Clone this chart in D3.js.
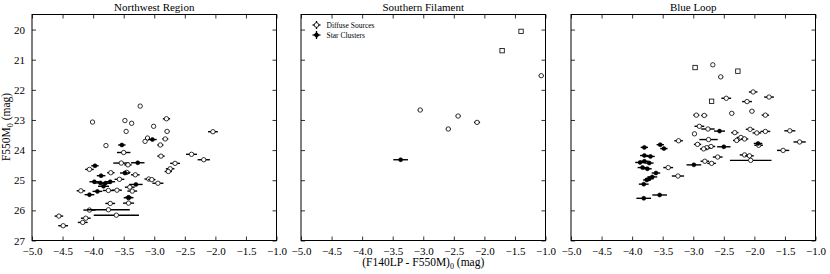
<!DOCTYPE html>
<html><head><meta charset="utf-8">
<script src="https://cdn.jsdelivr.net/npm/d3@7"></script>
<style>body{margin:0;background:#fff}svg{display:block}</style>
</head><body>
<svg id="c" width="830" height="274"></svg>
<script>
// ---------- data: [color, magnitude, color error]
const panelTitles = ["Northwest Region", "Southern Filament", "Blue Loop"];
const xTickVals = [-5.0, -4.5, -4.0, -3.5, -3.0, -2.5, -2.0, -1.5, -1.0];
const yTickVals = [20, 21, 22, 23, 24, 25, 26, 27];
const xDomain = [-5.0, -1.0];
const yDomain = [19.5, 27];
const yErr = 0.05;

const nwDiffuse = [
  [-3.23,22.54,0.03],[-4.01,23.07,0.03],[-3.48,23.02,0.03],[-3.37,23.11,0.03],[-3.46,23.38,0.03],
  [-3.01,23.21,0.03],[-2.80,22.96,0.06],[-2.79,23.38,0.04],[-2.04,23.39,0.08],[-3.79,23.85,0.03],
  [-3.11,23.60,0.04],[-3.15,23.71,0.03],[-2.82,23.63,0.05],[-2.90,23.83,0.05],[-3.50,24.08,0.11],
  [-2.89,24.20,0.06],[-2.39,24.14,0.09],[-2.19,24.32,0.1],[-2.66,24.44,0.08],[-2.74,24.62,0.07],
  [-2.77,24.71,0.06],[-3.54,24.43,0.13],[-3.43,24.49,0.06],[-4.06,24.64,0.07],[-3.71,24.75,0.06],
  [-3.45,24.74,0.06],[-3.31,24.82,0.07],[-3.57,24.97,0.08],[-3.09,24.96,0.07],[-3.04,24.98,0.06],
  [-2.94,25.10,0.09],[-4.20,25.35,0.07],[-3.75,25.34,0.09],[-3.61,25.33,0.08],[-3.40,25.23,0.08],
  [-3.36,25.36,0.08],[-3.42,25.58,0.08],[-3.42,25.76,0.09],[-3.72,25.77,0.08],[-4.06,25.99,0.1],
  [-3.75,25.98,0.35],[-3.62,26.16,0.37],[-4.12,26.26,0.08],[-4.17,26.40,0.08],[-4.56,26.19,0.07],
  [-4.49,26.51,0.08]
];
const nwClusters = [
  [-3.53,23.83,0.06],[-3.03,23.65,0.07],[-3.27,24.42,0.11],[-3.97,24.52,0.06],[-3.87,24.85,0.07],
  [-3.98,25.05,0.08],[-3.48,24.76,0.08],[-3.88,25.09,0.11],[-3.80,25.10,0.09],[-3.72,25.05,0.08],
  [-3.83,25.20,0.09],[-3.30,25.14,0.11],[-3.93,25.37,0.08],[-4.06,25.48,0.08],[-3.42,25.57,0.06]
];
const sfDiffuse = [
  [-1.07,21.53,0.04],[-3.05,22.67,0.04],[-2.43,22.87,0.04],[-2.59,23.30,0.04],[-2.12,23.08,0.05]
];
const sfSquares = [[-1.40,20.06],[-1.71,20.70]];
const sfClusters = [[-3.37,24.32,0.12]];
const blDiffuse = [
  [-2.68,21.17,0.02],[-2.55,21.57,0.04],[-2.02,22.07,0.07],[-2.46,22.28,0.08],[-2.12,22.39,0.08],
  [-1.76,22.24,0.08],[-2.37,22.78,0.04],[-2.04,22.71,0.04],[-1.82,22.84,0.06],[-2.95,22.84,0.05],
  [-2.82,22.85,0.05],[-2.90,23.21,0.08],[-2.76,23.30,0.11],[-2.98,23.46,0.03],[-2.32,23.42,0.06],
  [-2.07,23.31,0.07],[-1.96,23.43,0.07],[-1.82,23.38,0.08],[-1.42,23.36,0.09],[-2.75,23.65,0.15],
  [-3.24,23.69,0.07],[-2.22,23.58,0.07],[-2.16,23.63,0.06],[-2.29,23.68,0.06],[-1.93,23.84,0.07],
  [-1.26,23.73,0.1],[-2.93,23.81,0.06],[-2.71,23.88,0.07],[-2.78,23.92,0.06],[-2.83,23.96,0.06],
  [-1.53,24.01,0.1],[-2.16,24.16,0.08],[-2.08,24.19,0.07],[-2.60,24.23,0.08],[-2.06,24.34,0.34],
  [-2.81,24.37,0.07],[-2.70,24.44,0.07],[-3.41,24.58,0.08],[-3.25,24.86,0.1]
];
const blSquares = [[-2.97,21.26],[-2.27,21.38],[-2.70,22.38]];
const blClusters = [
  [-2.57,23.37,0.09],[-1.94,23.78,0.07],[-2.50,23.89,0.11],[-2.99,24.49,0.12],[-3.80,23.91,0.06],
  [-3.54,23.82,0.06],[-3.48,23.95,0.06],[-3.80,24.18,0.07],[-3.70,24.21,0.07],[-3.87,24.41,0.08],
  [-3.80,24.37,0.07],[-3.72,24.43,0.07],[-3.83,24.58,0.08],[-3.75,24.62,0.07],[-3.61,24.76,0.07],
  [-3.67,24.89,0.08],[-3.72,24.95,0.07],[-3.76,24.99,0.06],[-3.81,25.13,0.08],[-3.81,25.60,0.12],
  [-3.55,25.49,0.12]
];
const legendLabels = ["Diffuse Sources", "Star Clusters"];

(function () {
const panels = [
  {diffuse: nwDiffuse, squares: [], clusters: nwClusters},
  {diffuse: sfDiffuse, squares: sfSquares, clusters: sfClusters},
  {diffuse: blDiffuse, squares: blSquares, clusters: blClusters}
];
const svg = d3.select("#c");
const FONT = "'Liberation Serif','DejaVu Serif',serif";
const lefts = [32, 301, 571], pw = 244.5, pTop = 14.5, pBottom = 240.5;
const fmt = v => d3.format(".1f")(v).replace("-", "\u2212");

panels.forEach((p, i) => {
  const x = d3.scaleLinear().domain(xDomain).range([lefts[i], lefts[i] + pw]);
  const y = d3.scaleLinear().domain(yDomain).range([pTop, pBottom]);
  const g = svg.append("g");

  const axB = d3.axisBottom(x).tickValues(xTickVals).tickSizeInner(-4).tickSizeOuter(0).tickPadding(7).tickFormat(fmt);
  const axT = d3.axisTop(x).tickValues(xTickVals).tickSizeInner(-4).tickSizeOuter(0).tickFormat("");
  const axL = d3.axisLeft(y).tickValues(yTickVals).tickSizeInner(-4).tickSizeOuter(0).tickPadding(7).tickFormat(i === 0 ? d3.format("d") : "");
  const axR = d3.axisRight(y).tickValues(yTickVals).tickSizeInner(-4).tickSizeOuter(0).tickFormat("");
  [[axB, `translate(0,${pBottom})`], [axT, `translate(0,${pTop})`], [axL, `translate(${lefts[i]},0)`], [axR, `translate(${lefts[i]+pw},0)`]]
    .forEach(([a, t]) => {
      const ag = g.append("g").attr("transform", t).call(a);
      ag.select(".domain").remove();
      ag.selectAll("line").attr("stroke", "#000").attr("stroke-width", 0.8);
      ag.selectAll("text").attr("font-family", FONT).attr("font-size", 11).attr("fill", "#000");
    });

  g.append("rect").attr("x", lefts[i]).attr("y", pTop).attr("width", pw).attr("height", pBottom - pTop)
    .attr("fill", "none").attr("stroke", "#000").attr("stroke-width", 1);

  g.append("text").attr("x", lefts[i] + pw / 2).attr("y", 11).attr("text-anchor", "middle")
    .attr("font-family", FONT).attr("font-size", 11).text(panelTitles[i]);

  const drawErr = (sel, d) => {
    sel.append("line").attr("x1", x(d[0] - d[2])).attr("x2", x(d[0] + d[2])).attr("y1", y(d[1])).attr("y2", y(d[1]))
      .attr("stroke", "#000").attr("stroke-width", 1.4);
    sel.append("line").attr("x1", x(d[0])).attr("x2", x(d[0])).attr("y1", y(d[1] - yErr)).attr("y2", y(d[1] + yErr))
      .attr("stroke", "#000").attr("stroke-width", 1.2);
  };
  p.diffuse.forEach(d => {
    const s = g.append("g");
    drawErr(s, d);
    s.append("circle").attr("cx", x(d[0])).attr("cy", y(d[1])).attr("r", 2.2)
      .attr("fill", "#fff").attr("stroke", "#000").attr("stroke-width", 0.8);
  });
  p.squares.forEach(d => {
    g.append("rect").attr("x", x(d[0]) - 2.2).attr("y", y(d[1]) - 2.2).attr("width", 4.4).attr("height", 4.4)
      .attr("fill", "#fff").attr("stroke", "#000").attr("stroke-width", 0.8);
  });
  p.clusters.forEach(d => {
    const s = g.append("g");
    drawErr(s, d);
    s.append("circle").attr("cx", x(d[0])).attr("cy", y(d[1])).attr("r", 2)
      .attr("fill", "#000").attr("stroke", "#000").attr("stroke-width", 0.6);
  });

  if (i === 1) {
    const lg = svg.append("g");
    legendLabels.forEach((lab, k) => {
      const cx = lefts[1] + 15.5, cy = 25 + k * 10;
      lg.append("line").attr("x1", cx - 4).attr("x2", cx + 4).attr("y1", cy).attr("y2", cy).attr("stroke", "#000").attr("stroke-width", 1.3);
      lg.append("line").attr("x1", cx).attr("x2", cx).attr("y1", cy - 4).attr("y2", cy + 4).attr("stroke", "#000").attr("stroke-width", 1.3);
      lg.append("circle").attr("cx", cx).attr("cy", cy).attr("r", k === 0 ? 2.3 : 2)
        .attr("fill", k === 0 ? "#fff" : "#000").attr("stroke", "#000").attr("stroke-width", 0.8);
      lg.append("text").attr("x", cx + 10).attr("y", cy + 2.5).attr("font-family", FONT).attr("font-size", 7.5).text(lab);
    });
  }
});

const yl = svg.append("text").attr("transform", "translate(10,127) rotate(-90)").attr("text-anchor", "middle")
  .attr("font-family", FONT).attr("font-size", 11.5);
yl.append("tspan").text("F550M");
yl.append("tspan").attr("font-size", 8).attr("dy", 2.5).text("0");
yl.append("tspan").attr("dy", -2.5).text(" (mag)");

const xl = svg.append("text").attr("x", lefts[1] + pw / 2).attr("y", 266).attr("text-anchor", "middle")
  .attr("font-family", FONT).attr("font-size", 11.5);
xl.append("tspan").text("(F140LP - F550M)");
xl.append("tspan").attr("font-size", 8).attr("dy", 2.5).text("0");
xl.append("tspan").attr("dy", -2.5).text(" (mag)");
})();
</script>
</body></html>
